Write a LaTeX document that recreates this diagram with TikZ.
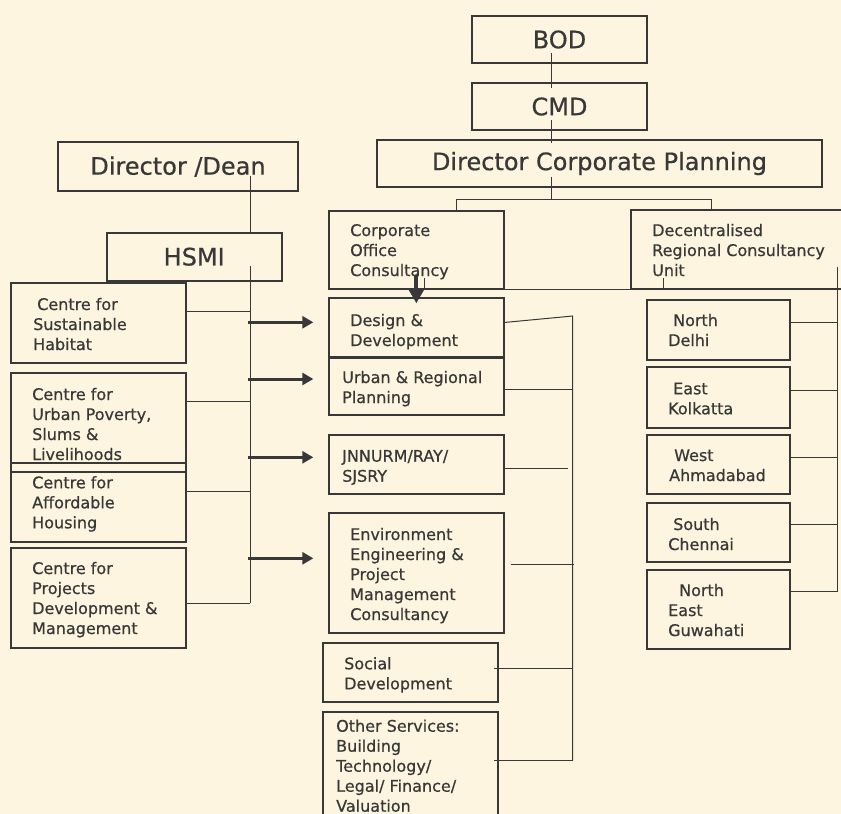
\documentclass[tikz,border=0pt]{standalone}
\usepackage{fontspec}
\setmainfont{DejaVu Sans}[FakeBold=0.6]
\usetikzlibrary{arrows.meta}
\definecolor{bg}{RGB}{253,245,223}
\definecolor{ink}{RGB}{56,56,56}
\newcommand\ml[1]{\begin{tabular}[t]{@{}l@{}}#1\end{tabular}}
\begin{document}
\begin{tikzpicture}[x=1pt,y=-1pt,
  box/.style={draw=ink, line width=1.8pt, inner sep=0pt, outer sep=0pt, anchor=north west},
  big/.style={font=\fontsize{24}{28}\selectfont, text=ink},
  lbl/.style={font=\fontsize{16}{20}\selectfont, text=ink, inner sep=0pt, anchor=base west},
  wire/.style={draw=ink, line width=1pt},
  fat/.style={draw=ink, line width=3pt, -{Triangle[length=11pt,width=12pt]}},
  fatdown/.style={draw=ink, line width=4pt, -{Triangle[length=14pt,width=15pt]}},
]
\useasboundingbox (0,0) rectangle (841,814);
\clip (0,0) rectangle (841,814);
\fill[bg] (0,0) rectangle (841,814);

% ---- top chain
\node[box,big,minimum width=175pt,minimum height=47pt] (bod) at (472,16) {BOD};
\node[box,big,minimum width=175pt,minimum height=47pt] (cmd) at (472,83) {CMD};
\node[box,big,minimum width=445pt,minimum height=47pt] (dcp) at (377,140) {Director Corporate Planning};

% ---- left
\node[box,big,minimum width=239.4pt,minimum height=48.7pt] (dean) at (58.3,142.3) {Director /Dean};
\node[box,big,minimum width=175pt,minimum height=48pt] (hsmi) at (106.7,232.7) {HSMI};
\node[box,minimum width=174.4pt,minimum height=80pt] (csh) at (11.3,282.7) {};
\node[box,minimum width=174.4pt,minimum height=99pt] (cup) at (11.3,373.3) {};
\node[box,minimum width=174.4pt,minimum height=79pt] (cah) at (11.3,463.3) {};
\node[box,minimum width=174.4pt,minimum height=99.7pt] (cpd) at (11.3,548) {};

% ---- middle
\node[box,minimum width=175.3pt,minimum height=78.6pt] (cor) at (328.7,210.7) {};
\node[box,minimum width=220pt,minimum height=79pt] (dec) at (631,210) {};
\node[box,minimum width=175.3pt,minimum height=58.4pt] (des) at (328.7,298.3) {};
\node[box,minimum width=175.3pt,minimum height=57pt] (urb) at (328.7,358) {};
\node[box,minimum width=175.3pt,minimum height=59.3pt] (jnn) at (328.7,434.7) {};
\node[box,minimum width=175.3pt,minimum height=120pt] (env) at (328.7,513.3) {};
\node[box,minimum width=175.6pt,minimum height=59pt] (soc) at (322.7,643.3) {};
\node[box,minimum width=175.6pt,minimum height=120pt] (oth) at (322.7,712) {};

% ---- regional
\node[box,minimum width=143.3pt,minimum height=60pt] (nd) at (646.7,300) {};
\node[box,minimum width=143.3pt,minimum height=60.4pt] (ek) at (646.7,367.3) {};
\node[box,minimum width=143.3pt,minimum height=59.3pt] (wa) at (646.7,435) {};
\node[box,minimum width=143.3pt,minimum height=59.3pt] (sc) at (646.7,502.7) {};
\node[box,minimum width=143.3pt,minimum height=79pt] (ne) at (646.7,570) {};

% ---- texts
\node[lbl] (tcor) at (350,236) {\ml{Corporate\\Office\\Consultancy}};
\node[lbl] (tdec) at (652,236) {\ml{Decentralised\\Regional Consultancy\\Unit}};
\node[lbl] (tdes) at (350,326) {\ml{Design \&\\Development}};
\node[lbl] (turb) at (342,383) {\ml{Urban \& Regional\\Planning}};
\node[lbl] (tjnn) at (342,461.7) {\ml{JNNURM/RAY/\\SJSRY}};
\node[lbl] (tenv) at (350,540) {\ml{Environment\\Engineering \&\\Project\\Management\\Consultancy}};
\node[lbl] (tsoc) at (344,669.3) {\ml{Social\\Development}};
\node[lbl] (toth) at (336,731.7) {\ml{Other Services:\\Building\\Technology/\\Legal/ Finance/\\Valuation}};
\node[lbl] (tcsh) at (33,310) {\ml{\hspace*{4pt}Centre for\\Sustainable\\Habitat}};
\node[lbl] (tcup) at (32,400) {\ml{Centre for\\Urban Poverty,\\Slums \&\\Livelihoods}};
\node[lbl] (tcah) at (32,488.3) {\ml{Centre for\\Affordable\\Housing}};
\node[lbl] (tcpd) at (32,574) {\ml{Centre for\\Projects\\Development \&\\Management}};
\node[lbl] (tnd) at (668,326) {\ml{\hspace*{5pt}North\\Delhi}};
\node[lbl] (tek) at (668,394.3) {\ml{\hspace*{5pt}East\\Kolkatta}};
\node[lbl] (twa) at (669,461) {\ml{\hspace*{5pt}West\\Ahmadabad}};
\node[lbl] (tsc) at (668,530) {\ml{\hspace*{5pt}South\\Chennai}};
\node[lbl] (tne) at (668,596) {\ml{\hspace*{11pt}North\\East\\Guwahati}};

% ---- top connectors
\draw[wire] ([xshift=-7.8pt,yshift=10pt]bod.south) -- ([xshift=-7.8pt,yshift=-5pt]cmd.north);
\draw[wire] ([xshift=-7.8pt,yshift=10pt]cmd.south) -- ([xshift=-47.8pt,yshift=-3pt]dcp.north);
\coordinate (split) at (551.7,199);
\coordinate (cl) at (456,199);
\coordinate (cr) at (711,199);
\draw[wire] ([xshift=-47.8pt,yshift=10pt]dcp.south) -- (split);
\draw[wire] (cor.north -| cl) -- (cl) -- (cr) -- (dec.north -| cr);
\draw[wire] (cor.south east) -- (cor.south east -| dec.west);
\draw[wire] ([xshift=32pt]dec.south west) -- ([xshift=32pt,yshift=11pt]dec.south west);
\draw[wire] ([xshift=8pt]cor.south) -- ([xshift=8pt,yshift=11pt]cor.south);
\draw[fatdown] ([yshift=14pt]cor.south) -- ([yshift=-5pt]des.north);

% ---- middle bus
\coordinate (bt) at (572.7,316);
\coordinate (bb) at (572.7,760.7);
\draw[wire] ([yshift=5pt]des.east) -- (bt) -- (bb);
\draw[wire] ([yshift=-2.5pt]urb.east) -- ([yshift=-2.5pt]urb.east -| bt);
\draw[wire] ([yshift=-4pt]jnn.east) -- ([xshift=-5pt,yshift=-4pt]jnn.east -| bt);
\draw[wire] ([xshift=6.7pt,yshift=9pt]env.east) -- ([xshift=1.5pt,yshift=9pt]env.east -| bt);
\draw[wire] ([xshift=-4pt,yshift=4pt]soc.east) -- ([yshift=4pt]soc.east -| bt);
\draw[wire] ([xshift=-4pt,yshift=11.3pt]oth.east) -- (bb);

% ---- left bus
\coordinate (lt) at (250,175.7);
\coordinate (lm) at (250,266);
\coordinate (lb) at (250,603.3);
\draw[wire] (lt) -- (hsmi.north -| lt);
\draw[wire] (lm) -- (lb);
\draw[wire] ([yshift=11.7pt]csh.east) -- ([yshift=11.7pt]csh.east -| lb);
\draw[wire] ([yshift=21.1pt]cup.east) -- ([yshift=21.1pt]cup.east -| lb);
\draw[wire] ([yshift=11.1pt]cah.east) -- ([yshift=11.1pt]cah.east -| lb);
\draw[wire] (cpd.east |- lb) -- (lb);

% ---- thick arrows
\draw[fat] ([xshift=-80.4pt,yshift=5.2pt]des.west) -- ([xshift=-15.4pt,yshift=5.2pt]des.west);
\draw[fat] ([xshift=-80.4pt,yshift=7.5pt]urb.west) -- ([xshift=-15.4pt,yshift=7.5pt]urb.west);
\draw[fat] ([xshift=-80.4pt,yshift=7.05pt]jnn.west) -- ([xshift=-15.4pt,yshift=7.05pt]jnn.west);
\draw[fat] ([xshift=-80.4pt,yshift=15pt]env.west) -- ([xshift=-15.4pt,yshift=15pt]env.west);

% ---- right bus
\coordinate (rt) at (837.7,266.7);
\coordinate (rb) at (837.7,591.7);
\draw[wire] (rt) -- (rb);
\draw[wire] ([yshift=7.7pt]nd.east) -- ([yshift=7.7pt]nd.east -| rt);
\draw[wire] ([yshift=7.5pt]ek.east) -- ([yshift=7.5pt]ek.east -| rt);
\draw[wire] ([yshift=7pt]wa.east) -- ([yshift=7pt]wa.east -| rt);
\draw[wire] ([yshift=7.65pt]sc.east) -- ([yshift=7.65pt]sc.east -| rt);
\draw[wire] (ne.east |- rb) -- (rb);
\end{tikzpicture}
\end{document}
